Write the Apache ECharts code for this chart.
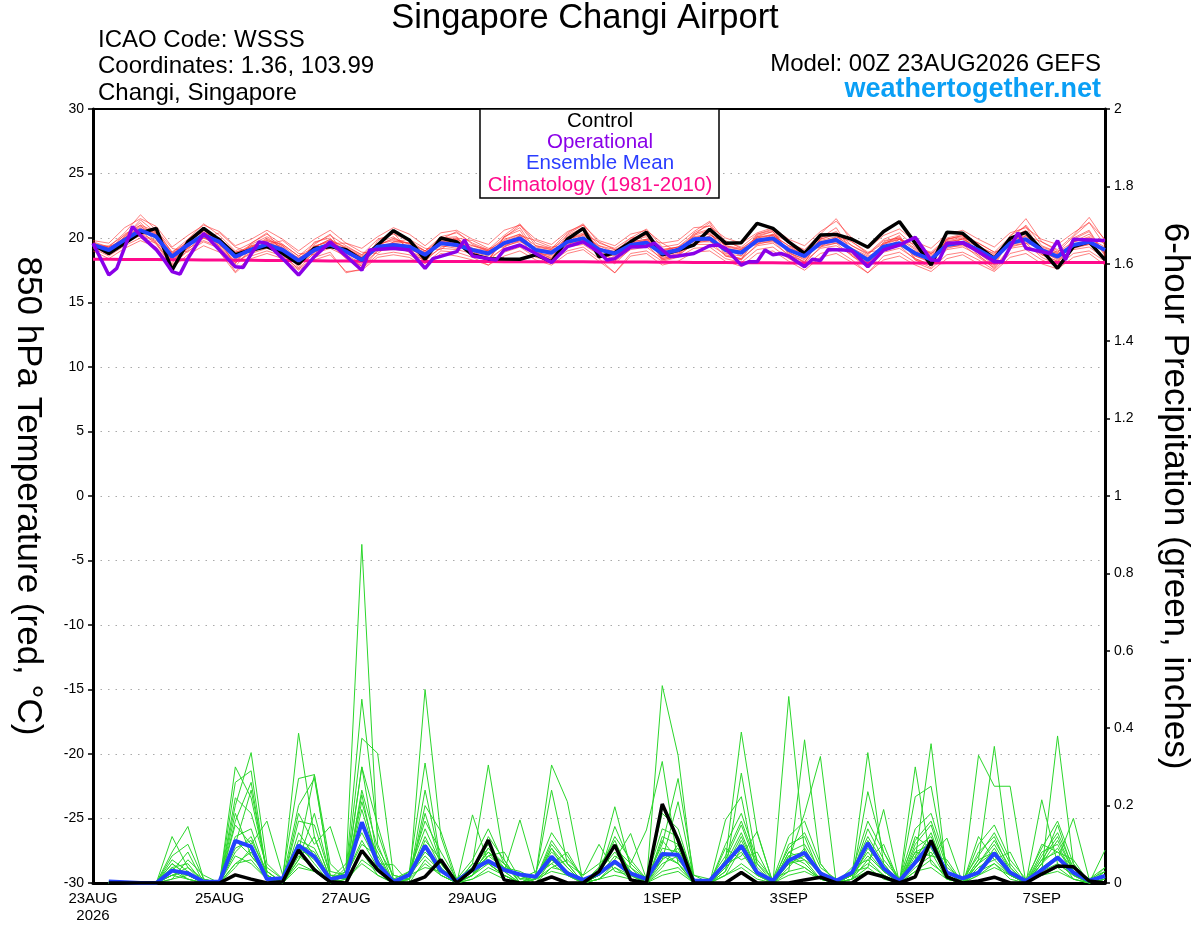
<!DOCTYPE html>
<html><head><meta charset="utf-8">
<script src="https://cdn.jsdelivr.net/npm/echarts@6/dist/echarts.min.js"></script>
<style>html,body{margin:0;padding:0;background:#fff}#c{width:1200px;height:927px}</style>
</head><body><div id="c"></div>
<script>
// ---- x axis (forecast hour from 00Z 23AUG2026) ----
const tickHours = [0, 48, 96, 144, 216, 264, 312, 360];
const tickLabels = ['23AUG\n2026', '25AUG', '27AUG', '29AUG', '1SEP', '3SEP', '5SEP', '7SEP'];
const hours6 = [];
for (let h = 0; h <= 384; h += 6) hours6.push(h);
const precipHours = hours6.slice(1);

// ---- 850 hPa temperature (C), 6-hourly ----
const controlTemp = [19.5,18.8,19.6,20.4,20.75,17.5,19.7,20.75,19.85,18.7,19.07,19.33,18.8,18.0,19.2,19.33,
  19.1,18.3,19.46,20.57,19.85,18.35,20.0,19.7,18.7,18.4,18.37,18.35,18.7,18.16,19.9,20.75,
  18.55,18.86,19.7,20.44,18.7,19.07,19.46,20.67,19.6,19.64,21.14,20.75,19.7,18.8,20.23,20.28,
  19.9,19.28,20.5,21.27,19.6,17.9,20.44,20.36,19.33,18.4,19.97,20.44,19.07,17.65,19.33,19.7,18.3];
const meanTemp = [19.46,19.07,19.85,20.6,20.1,18.55,19.46,20.23,19.7,18.55,19.1,19.5,19.07,18.24,19.07,19.5,
  18.95,18.3,19.33,19.46,19.33,18.7,19.6,19.46,19.07,18.8,19.6,19.97,19.07,18.86,19.7,19.97,
  19.1,18.8,19.46,19.64,18.8,19.07,19.9,19.97,19.07,18.86,19.8,19.97,19.07,18.6,19.6,19.85,
  19.05,18.3,19.33,19.6,18.8,18.35,19.46,19.64,19.07,18.4,19.6,19.9,19.07,18.55,19.46,19.7,19.07];
const climoTemp = [18.35,18.35,18.34,18.33,18.33,18.32,18.31,18.30,18.29,18.28,18.27,18.26,18.25,18.24,18.23,18.22,
  18.21,18.20,18.20,18.19,18.19,18.18,18.18,18.17,18.17,18.17,18.16,18.16,18.16,18.15,18.15,18.15,
  18.14,18.14,18.13,18.13,18.12,18.12,18.11,18.10,18.10,18.09,18.08,18.08,18.07,18.07,18.06,18.06,
  18.06,18.06,18.06,18.07,18.07,18.07,18.08,18.08,18.09,18.09,18.10,18.10,18.10,18.11,18.11,18.11,18.11];
// operational run (3-hourly output where visible)
const opHours = [0,6,9,15,18,24,27,30,33,36,42,48,54,57,60,63,66,72,78,84,90,96,102,105,114,120,126,129,138,141,144,153,156,162,168,174,180,186,
  192,195,198,204,210,213,219,222,228,234,237,240,246,249,252,255,258,261,264,270,273,276,279,285,288,294,300,306,312,318,321,324,330,336,342,345,351,354,360,363,366,369,372,378,384];
const opTemp = [19.6,17.13,17.65,20.88,20.2,19.1,18.3,17.4,17.2,18.4,20.36,19.07,17.77,17.72,18.75,19.7,19.6,18.4,17.13,18.55,19.7,18.6,17.5,19.07,19.2,19.07,17.65,18.4,18.94,19.85,18.6,18.3,19.07,19.46,18.8,18.1,19.33,19.7,
  18.9,18.3,18.4,19.3,19.35,19.6,18.55,18.6,18.8,19.4,19.46,19.2,17.9,18.16,18.16,19.07,18.7,18.8,18.6,17.77,18.35,18.25,19.1,19.07,19.0,17.77,19.07,19.46,20.05,18.3,18.25,19.6,19.64,18.94,18.16,18.16,20.4,19.2,18.94,18.8,19.8,18.3,19.9,19.85,19.8];

// ensemble members, temperature
const tempMemberA = [19.7,19.3,20.4,21.8,20.6,18.9,19.9,21.1,20.2,19.0,19.6,20.3,19.5,18.6,19.6,20.2,19.4,18.7,19.9,20.3,19.8,19.0,20.1,20.4,19.6,19.1,20.2,21.1,19.6,19.2,20.4,21.1,19.6,19.2,20.0,20.7,19.3,19.5,20.5,21.3,19.7,19.3,20.3,20.6,19.6,19.1,20.3,21.5,19.7,18.8,19.9,20.4,19.3,18.9,20.0,20.3,19.6,18.9,20.1,21.5,19.7,19.1,20.2,21.6,19.8];
const tempMemberB = [19.2,18.6,19.4,20.0,19.6,17.9,19.0,19.7,19.2,17.4,18.6,19.0,18.6,17.6,18.5,18.9,17.3,17.6,18.7,18.9,18.7,18.0,19.0,18.9,18.5,17.9,18.9,19.3,18.5,18.2,19.0,19.3,18.4,17.3,18.8,19.0,18.2,18.5,19.2,19.3,18.4,18.1,19.1,19.3,18.4,17.8,18.8,19.1,18.3,17.3,18.6,18.9,18.1,17.6,18.7,18.9,18.3,17.5,18.8,19.1,18.3,17.8,18.8,19.0,18.2];
const tempMemberC = [19.4,19.0,20.0,20.9,20.3,18.4,19.3,20.4,20.0,18.3,19.4,19.8,19.3,17.9,19.3,19.9,18.8,18.2,19.1,19.7,19.6,18.4,19.8,19.9,18.9,18.6,19.9,20.3,18.9,18.6,19.9,20.4,19.2,18.5,19.7,19.9,18.6,18.9,20.2,21.2,19.2,18.6,20.0,20.3,18.9,18.3,19.9,20.3,19.0,18.0,19.5,19.9,18.6,18.1,19.7,19.9,18.8,18.1,19.9,20.4,19.0,18.3,19.7,20.1,18.9];
const tempMemberD = [19.6,19.2,19.6,20.3,19.8,18.8,19.7,20.0,19.4,18.8,19.0,19.3,18.9,18.5,18.9,19.3,19.2,18.5,19.5,19.2,19.0,18.9,19.4,19.2,19.4,19.0,19.4,19.7,19.3,19.1,19.5,19.8,19.0,19.0,19.3,19.4,19.1,19.3,19.7,19.7,19.3,19.1,19.6,19.7,19.3,18.8,19.4,19.6,19.2,18.6,19.1,19.4,19.0,18.7,19.3,19.4,19.2,18.6,19.4,19.6,19.2,18.8,19.3,19.5,19.2];
const tempMemberE = [19.3,19.4,20.2,21.2,19.9,18.3,19.8,20.5,19.5,18.2,19.3,19.9,19.4,18.0,19.4,19.7,18.7,18.0,19.6,20.1,19.2,18.5,19.7,19.8,18.8,18.4,19.7,20.2,18.8,18.7,19.9,20.3,19.3,18.6,19.6,19.8,18.5,18.8,20.0,20.4,18.8,18.6,20.3,20.7,18.8,18.4,19.7,20.0,18.8,18.1,19.6,20.0,18.6,18.2,19.8,20.0,18.9,18.2,19.8,20.2,18.9,18.4,19.7,20.3,18.8];
const tempMemberF = [19.5,18.9,20.1,21.4,20.4,18.2,19.2,20.6,19.9,17.8,19.2,20.0,19.2,17.7,19.5,20.3,18.5,17.8,19.4,20.0,19.5,18.1,19.9,20.0,19.0,18.2,20.1,20.8,19.0,18.4,20.3,21.0,19.0,18.2,19.9,20.3,18.4,18.7,20.4,21.0,18.9,18.3,20.1,20.5,18.9,18.1,20.0,20.8,18.9,17.8,19.5,20.2,18.4,17.9,19.9,20.2,18.8,17.9,20.2,20.9,18.8,18.0,20.0,20.6,18.7];
const tempMemberG = [19.5,19.2,19.7,20.4,20.2,18.7,19.6,20.0,19.6,18.9,19.2,19.4,18.9,18.4,19.0,19.6,19.2,18.5,19.2,19.6,19.4,18.9,19.6,19.3,19.2,19.0,19.5,19.9,19.2,19.0,19.6,19.8,19.2,18.9,19.5,19.6,19.0,19.2,19.8,19.8,19.2,19.0,19.7,19.8,19.2,18.8,19.5,19.7,19.1,18.5,19.2,19.5,18.9,18.6,19.4,19.5,19.1,18.6,19.5,19.7,19.1,18.8,19.4,19.6,19.0];
const tempMemberH = [19.4,18.8,20.0,20.8,20.0,18.5,19.3,20.3,19.8,18.4,19.0,19.6,19.2,18.0,19.1,19.4,18.9,18.3,19.3,19.4,19.2,18.6,19.5,19.7,19.2,18.7,19.5,19.8,19.0,18.8,19.7,20.1,19.1,18.7,19.6,19.8,18.9,18.9,19.9,20.1,19.0,18.8,19.9,20.1,19.0,18.5,19.6,19.9,19.1,18.2,19.3,19.6,18.7,18.3,19.5,19.6,19.1,18.4,19.6,19.9,19.0,18.5,19.5,19.8,19.0];
const tempMemberI = [19.6,19.0,19.8,20.5,20.3,18.6,19.6,20.1,19.6,18.6,19.4,19.3,18.8,18.3,19.2,19.4,19.0,18.4,19.2,19.3,19.2,18.8,19.5,19.4,19.1,18.9,19.6,19.9,19.1,18.9,19.6,19.9,19.1,18.9,19.4,19.5,18.8,19.0,19.9,19.8,19.1,18.9,19.7,19.9,19.0,18.6,19.5,19.8,19.0,18.4,19.3,19.5,18.8,18.4,19.4,19.6,19.0,18.4,19.6,19.8,19.1,18.6,19.4,19.6,19.1];
const tempMemberJ = [19.5,19.1,20.1,21.0,20.5,18.9,19.7,20.6,19.7,18.7,19.5,20.1,19.4,18.4,19.3,19.9,19.2,18.6,19.5,19.9,19.6,19.0,19.9,20.5,19.5,19.0,20.0,21.0,19.4,19.1,20.2,20.8,19.4,18.9,20.0,20.2,19.0,19.3,20.3,20.7,19.4,19.1,20.1,20.2,19.4,18.9,20.0,20.5,19.4,18.7,19.8,20.0,19.2,18.8,19.9,20.1,19.4,18.7,19.9,21.0,19.4,18.9,20.1,21.2,19.4];
const tempMemberK = [19.3,18.9,19.6,20.2,19.7,18.3,19.2,19.8,19.3,18.1,18.8,19.2,18.8,17.9,18.8,19.2,18.6,17.9,19.0,19.1,19.0,18.4,19.2,19.1,18.8,18.4,19.2,19.5,18.8,18.5,19.3,19.5,18.7,18.2,19.1,19.3,18.4,18.7,19.5,19.5,18.7,18.4,19.4,19.6,18.7,18.2,19.2,19.4,18.7,17.9,18.9,19.2,18.4,17.9,19.1,19.3,18.7,17.6,19.2,19.4,18.7,18.2,19.1,19.3,18.4];
const tempMemberL = [19.5,19.1,20.0,20.7,20.0,18.6,19.5,20.2,19.7,18.6,19.1,19.7,19.2,18.2,19.2,19.6,19.0,18.3,19.4,19.6,19.3,18.7,19.6,19.6,19.1,18.8,19.6,20.1,19.1,18.9,19.8,20.0,19.1,18.8,19.5,19.7,18.8,19.1,19.9,20.1,19.1,18.9,19.8,20.0,19.1,18.6,19.6,19.9,19.1,18.3,19.3,19.6,18.8,18.4,19.5,19.7,19.1,18.4,19.6,19.9,19.1,18.6,19.5,19.7,19.1];
const tempMemberM = [19.8,19.6,20.8,21.5,20.9,19.3,20.2,21.0,20.5,19.4,19.9,20.6,19.9,19.0,19.9,20.6,19.6,19.2,20.1,20.8,20.3,19.4,20.4,20.6,19.9,19.5,20.6,21.0,19.9,19.5,20.5,21.0,19.8,19.4,20.3,20.6,19.6,19.8,20.8,20.9,20.0,19.6,20.4,20.8,19.9,19.4,20.5,21.3,20.0,19.2,20.2,20.7,19.7,19.2,20.3,20.6,19.9,19.3,20.4,20.8,19.9,19.5,20.4,21.2,19.9];
const tempMemberN = [19.0,18.4,19.2,19.8,19.3,17.7,18.7,19.4,18.9,17.3,18.4,18.8,18.4,17.5,18.3,18.7,17.4,17.5,18.5,18.7,18.5,17.8,18.8,18.6,18.3,17.9,18.6,19.0,18.3,17.9,18.8,19.1,18.2,17.3,18.6,18.8,17.9,18.2,18.9,19.0,18.2,17.8,18.8,19.0,18.2,17.5,18.5,18.8,18.1,17.3,18.3,18.6,17.9,17.4,18.4,18.7,18.0,17.4,18.5,18.8,18.0,17.6,18.5,18.8,17.9];
const tempMemberO = [19.4,19.3,19.9,20.2,20.6,19.2,18.9,20.0,20.4,19.3,18.8,19.5,19.8,18.8,18.7,19.6,19.6,18.9,18.8,19.7,19.9,19.2,19.1,20.0,19.8,19.2,19.3,20.2,19.8,19.3,19.4,20.3,19.7,19.1,19.2,19.9,19.6,18.9,19.4,20.2,19.8,19.2,19.5,20.3,19.7,19.0,19.3,20.1,19.7,18.9,19.1,19.9,19.5,18.8,19.3,20.0,19.6,18.9,19.3,20.2,19.7,19.0,19.3,20.0,19.6];
const tempMemberP = [19.5,19.0,20.3,21.0,19.6,18.0,19.9,20.8,19.3,18.0,19.6,20.4,18.9,17.9,19.7,20.0,18.6,17.8,19.8,20.4,19.0,18.2,20.0,20.1,18.7,18.3,20.1,20.6,18.7,18.4,20.1,20.6,18.8,18.4,19.8,20.1,18.3,18.6,20.2,20.6,18.6,18.4,20.2,20.5,18.7,18.1,19.9,20.3,18.6,17.9,19.7,20.1,18.3,17.9,19.9,20.2,18.6,17.8,20.0,20.6,18.7,18.2,19.9,20.5,18.6];
const tempMemberQ = [19.6,19.3,19.9,20.7,20.4,18.8,19.5,20.4,20.0,18.9,19.3,19.8,19.5,18.6,19.3,19.8,19.3,18.7,19.5,19.8,19.6,19.0,19.7,19.9,19.4,19.1,19.8,20.3,19.4,19.2,19.9,20.2,19.4,19.1,19.7,19.9,19.1,19.3,20.1,20.3,19.4,19.2,20.0,20.2,19.4,18.9,19.8,20.1,19.4,18.8,19.6,19.9,19.1,18.8,19.7,19.9,19.3,18.8,19.8,20.1,19.3,18.9,19.7,20.0,19.3];
const tempMemberR = [19.3,18.7,19.5,20.6,19.5,17.8,19.1,20.2,19.5,18.1,18.9,19.6,18.7,17.6,18.9,19.5,18.4,17.6,19.0,19.4,18.9,18.2,19.3,19.5,18.7,18.2,19.3,19.8,18.7,18.3,19.4,19.8,18.7,18.0,19.2,19.5,18.3,18.6,19.6,19.8,18.6,18.3,19.5,19.8,18.6,18.0,19.3,19.6,18.6,17.7,19.0,19.4,18.3,17.7,19.2,19.5,18.5,17.7,19.3,19.6,18.5,17.9,19.2,19.5,18.5];
const tempMembers = [tempMemberA,tempMemberB,tempMemberC,tempMemberD,tempMemberE,tempMemberF,tempMemberG,tempMemberH,tempMemberI,
  tempMemberJ,tempMemberK,tempMemberL,tempMemberM,tempMemberN,tempMemberO,tempMemberP,tempMemberQ,tempMemberR];

// ---- 6-hour precipitation (inches), from hour 6 ----
const controlPrecip = [0,0,0,0,0,0,0,0,0.021,0.01,0,0.003,0.085,0.034,0.003,0,
  0.084,0.034,0,0,0.016,0.06,0,0.034,0.111,0.008,0,0,0.016,0,0,0.03,
  0.098,0.008,0,0.204,0.111,0,0,0,0.027,0,0,0,0.008,0.015,0,0,
  0.027,0.016,0,0.016,0.11,0.016,0,0.005,0.015,0,0,0.023,0.044,0.042,0.005,0];
const meanPrecip = [0.004,0.002,0,0,0.032,0.025,0.003,0.003,0.109,0.094,0.01,0.012,0.097,0.068,0.01,0.018,
  0.157,0.051,0.003,0.021,0.096,0.032,0.005,0.034,0.057,0.034,0.022,0.016,0.068,0.025,0.008,0.025,
  0.055,0.025,0.01,0.075,0.073,0.006,0.006,0.051,0.096,0.027,0.006,0.058,0.078,0.025,0.006,0.027,
  0.103,0.038,0.005,0.053,0.103,0.027,0.012,0.027,0.077,0.027,0.005,0.034,0.066,0.027,0.006,0.018];
const precipMember1 = [0,0,0,0,0.02,0.03,0,0,0.08,0.12,0.02,0,0.05,0.03,0,0.04,0.875,0.10,0,0.02,0.10,0.03,0,0.02,0.05,0.02,0,0,0.06,0.03,0,0.01,0.04,0.02,0,0.08,0.05,0,0,0.02,0.09,0.02,0,0.05,0.06,0.01,0,0.01,0.06,0.02,0,0.05,0.08,0.01,0,0.03,0.05,0.02,0,0.02,0.04,0.01,0,0.02];
const precipMember2 = [0.005,0,0,0,0.12,0.04,0,0,0.30,0.22,0.03,0,0.10,0.08,0.01,0.03,0.475,0.13,0.01,0,0.50,0.12,0,0.03,0.08,0.03,0,0.02,0.05,0.02,0,0.03,0.08,0.03,0,0.51,0.33,0,0,0.04,0.12,0.03,0,0.06,0.04,0.01,0,0.02,0.10,0.03,0,0.06,0.36,0.02,0,0.05,0.08,0.03,0,0.03,0.38,0.05,0,0.03];
const precipMember3 = [0,0,0,0,0.08,0.146,0.01,0,0.20,0.337,0.05,0.01,0.387,0.12,0.01,0.02,0.374,0.335,0.02,0.01,0.24,0.05,0,0.05,0.305,0.06,0,0.01,0.10,0.05,0,0.04,0.197,0.04,0.01,0.10,0.27,0.02,0,0.06,0.39,0.13,0,0.08,0.06,0.03,0,0.03,0.04,0.19,0,0.08,0.10,0.03,0,0.04,0.06,0.02,0,0.06,0.08,0.04,0,0.085];
const precipMember4 = [0,0,0,0,0.05,0.02,0,0,0.26,0.29,0.02,0,0.08,0.28,0.02,0.01,0.30,0.06,0,0.03,0.31,0.05,0,0.176,0.05,0.02,0,0.02,0.305,0.21,0,0.02,0.06,0.128,0.01,0.06,0.21,0.01,0,0.03,0.284,0.05,0,0.482,0.08,0.02,0,0.02,0.337,0.05,0,0.30,0.05,0.02,0,0.06,0.353,0.04,0,0.215,0.05,0.02,0,0.03];
const precipMember5 = [0,0,0,0,0.03,0.08,0,0,0.15,0.10,0.16,0.02,0.27,0.28,0.05,0.01,0.228,0.04,0.01,0.01,0.20,0.133,0.01,0.04,0.10,0.03,0.163,0.02,0.24,0.05,0,0.02,0.146,0.05,0.137,0.314,0.05,0.01,0,0.163,0.223,0.02,0.01,0.03,0.37,0.05,0,0.01,0.236,0.08,0,0.223,0.25,0.03,0,0.33,0.25,0.25,0,0.04,0.06,0.167,0.01,0.04];
const precipMember6 = [0,0,0,0,0.02,0.01,0,0,0.10,0.24,0.03,0,0.18,0.10,0.146,0.02,0.19,0.05,0.047,0,0.06,0.02,0,0.02,0.07,0.04,0.02,0,0.04,0.06,0.02,0.10,0.03,0.02,0,0.04,0.10,0,0,0.05,0.07,0.133,0,0.06,0.18,0.327,0,0.02,0.05,0.02,0,0.04,0.07,0.116,0,0.05,0.10,0.03,0,0.05,0.15,0.03,0,0.02];
const precipMember7 = [0,0,0,0,0.01,0.02,0,0,0.05,0.06,0.01,0,0.04,0.03,0,0.01,0.08,0.02,0,0.01,0.05,0.02,0,0.01,0.04,0.02,0,0.01,0.06,0.02,0,0.01,0.02,0.01,0,0.03,0.04,0,0,0.02,0.05,0.02,0,0.03,0.04,0.01,0,0.01,0.03,0.02,0,0.03,0.04,0.01,0,0.02,0.04,0.02,0,0.03,0.05,0.02,0,0.01];
const precipMember8 = [0,0,0,0,0.04,0.05,0,0,0.12,0.14,0.02,0,0.10,0.05,0,0.03,0.15,0.08,0,0.02,0.12,0.04,0,0.03,0.08,0.05,0,0.02,0.08,0.04,0,0.02,0.10,0.03,0,0.12,0.10,0,0,0.06,0.15,0.04,0,0.10,0.12,0.02,0,0.03,0.12,0.05,0,0.10,0.15,0.02,0,0.08,0.12,0.03,0,0.06,0.12,0.03,0,0.02];
const precipMember9 = [0,0,0,0,0.06,0.03,0,0,0.07,0.05,0.01,0,0.13,0.07,0,0.02,0.11,0.04,0,0.01,0.09,0.02,0,0.02,0.12,0.06,0,0.01,0.04,0.03,0,0.01,0.05,0.02,0,0.07,0.05,0,0,0.03,0.11,0.03,0,0.07,0.05,0.01,0,0.02,0.07,0.03,0,0.12,0.09,0.02,0,0.04,0.07,0.02,0,0.08,0.10,0.02,0,0.01];
const precipMember10 = [0,0,0,0,0.02,0.04,0.01,0,0.18,0.07,0.02,0,0.06,0.12,0.01,0,0.06,0.03,0,0.03,0.14,0.05,0,0.05,0.05,0.02,0,0.01,0.09,0.02,0,0.02,0.07,0.04,0,0.05,0.07,0,0,0.04,0.08,0.02,0,0.04,0.09,0.02,0,0.01,0.09,0.04,0,0.07,0.11,0.01,0,0.03,0.09,0.02,0,0.04,0.07,0.01,0,0.02];
const precipMember11 = [0,0,0,0,0.03,0.01,0,0,0.04,0.09,0.01,0,0.07,0.04,0,0.01,0.05,0.02,0,0.02,0.04,0.03,0,0.01,0.03,0.01,0,0.01,0.03,0.02,0,0.01,0.04,0.01,0,0.02,0.03,0,0,0.02,0.04,0.01,0,0.02,0.03,0.01,0,0.01,0.04,0.01,0,0.03,0.06,0.01,0,0.02,0.05,0.01,0,0.02,0.03,0.01,0,0.01];
const precipMember12 = [0,0,0,0,0.05,0.02,0,0,0.09,0.11,0.03,0,0.09,0.06,0.01,0.02,0.21,0.06,0,0.02,0.07,0.03,0,0.02,0.06,0.03,0,0.02,0.07,0.03,0,0.02,0.06,0.02,0,0.09,0.08,0,0,0.05,0.10,0.03,0,0.07,0.08,0.02,0,0.02,0.08,0.03,0,0.06,0.13,0.02,0,0.06,0.08,0.03,0,0.05,0.09,0.02,0,0.02];
const precipMember13 = [0,0,0,0,0.07,0.10,0.01,0,0.22,0.18,0.04,0.01,0.20,0.27,0.03,0.02,0.30,0.15,0.01,0.03,0.16,0.08,0.01,0.06,0.14,0.05,0.01,0.03,0.13,0.07,0.01,0.03,0.12,0.06,0.01,0.18,0.14,0.01,0,0.10,0.18,0.06,0.01,0.12,0.16,0.05,0,0.03,0.16,0.08,0.01,0.14,0.18,0.05,0,0.10,0.15,0.06,0.01,0.09,0.16,0.05,0,0.04];
const precipMember14 = [0,0,0,0,0.01,0.06,0.02,0,0.16,0.26,0.02,0,0.16,0.15,0.02,0.01,0.24,0.09,0.02,0.01,0.18,0.05,0.01,0.04,0.09,0.04,0.03,0.01,0.11,0.05,0.02,0.05,0.09,0.05,0.01,0.14,0.12,0.02,0.01,0.07,0.16,0.05,0.01,0.09,0.13,0.04,0.01,0.02,0.14,0.06,0.01,0.11,0.16,0.04,0.01,0.07,0.13,0.05,0,0.07,0.13,0.04,0.01,0.03];
const precipMember15 = [0,0,0,0,0.04,0.01,0,0,0.05,0.08,0.01,0,0.11,0.09,0.01,0.05,0.13,0.05,0,0.02,0.08,0.04,0,0.02,0.09,0.05,0.01,0.01,0.09,0.04,0,0.04,0.11,0.02,0,0.06,0.09,0,0,0.05,0.13,0.03,0,0.08,0.10,0.03,0,0.02,0.11,0.04,0,0.09,0.12,0.03,0,0.05,0.11,0.04,0,0.05,0.11,0.03,0,0.02];
const precipMember16 = [0,0,0,0,0.03,0.02,0,0,0.11,0.07,0.02,0,0.06,0.18,0.02,0.02,0.10,0.07,0,0.01,0.11,0.06,0,0.03,0.07,0.08,0.01,0.02,0.05,0.08,0.01,0.02,0.05,0.03,0,0.11,0.06,0.01,0,0.09,0.06,0.08,0,0.05,0.07,0.02,0,0.04,0.06,0.10,0,0.08,0.07,0.06,0,0.12,0.06,0.08,0,0.10,0.08,0.06,0,0.01];
const precipMembers = [precipMember1,precipMember2,precipMember3,precipMember4,precipMember5,precipMember6,precipMember7,precipMember8,
  precipMember9,precipMember10,precipMember11,precipMember12,precipMember13,precipMember14,precipMember15,precipMember16];

// ---- build ----
const FONT = '"Liberation Sans", Arial, Helvetica, sans-serif';
const pairs = (xs, ys) => xs.map((x, k) => [x, ys[k]]);
const series = [];
precipMembers.forEach(m => series.push({
  type: 'line', yAxisIndex: 1, data: pairs(precipHours, m), symbol: 'none', silent: true, z: 2,
  lineStyle: { color: '#2bd62b', width: 1 }
}));
tempMembers.forEach(m => series.push({
  type: 'line', yAxisIndex: 0, data: pairs(hours6, m), symbol: 'none', silent: true, z: 2,
  lineStyle: { color: 'rgba(255,45,45,0.6)', width: 1 }
}));
series.push({ name: 'Climatology', type: 'line', yAxisIndex: 0, data: pairs(hours6, climoTemp), symbol: 'none', z: 3, lineStyle: { color: '#ff0a8c', width: 3 } });
series.push({ name: 'Mean P', type: 'line', yAxisIndex: 1, data: pairs(precipHours, meanPrecip), symbol: 'none', z: 4, lineStyle: { color: '#2342ff', width: 4 } });
series.push({ name: 'Control P', type: 'line', yAxisIndex: 1, data: pairs(precipHours, controlPrecip), symbol: 'none', z: 5, lineStyle: { color: '#000', width: 3.5 } });
series.push({ name: 'Control', type: 'line', yAxisIndex: 0, data: pairs(hours6, controlTemp), symbol: 'none', z: 5, lineStyle: { color: '#000', width: 3.5 } });
series.push({ name: 'Ensemble Mean', type: 'line', yAxisIndex: 0, data: pairs(hours6, meanTemp), symbol: 'none', z: 6, lineStyle: { color: '#2342ff', width: 4 } });
series.push({ name: 'Operational', type: 'line', yAxisIndex: 0, data: pairs(opHours, opTemp), symbol: 'none', z: 7, lineStyle: { color: '#8a00e8', width: 3.5 } });

const legendLines = [
  { text: 'Control', color: '#000000' },
  { text: 'Operational', color: '#8a00e8' },
  { text: 'Ensemble Mean', color: '#2a3dff' },
  { text: 'Climatology (1981-2010)', color: '#ff0a8c' }
];

const graphic = [
  { type: 'text', x: 585, y: 18, z: 100, style: { text: 'Singapore Changi Airport', font: '34.5px ' + FONT, fill: '#000', align: 'center', verticalAlign: 'middle' } },
  { type: 'text', x: 98, y: 40, z: 100, style: { text: 'ICAO Code: WSSS', font: '24px ' + FONT, fill: '#000', align: 'left', verticalAlign: 'middle' } },
  { type: 'text', x: 98, y: 66, z: 100, style: { text: 'Coordinates: 1.36, 103.99', font: '24px ' + FONT, fill: '#000', align: 'left', verticalAlign: 'middle' } },
  { type: 'text', x: 98, y: 93, z: 100, style: { text: 'Changi, Singapore', font: '24px ' + FONT, fill: '#000', align: 'left', verticalAlign: 'middle' } },
  { type: 'text', x: 1101, y: 64, z: 100, style: { text: 'Model: 00Z 23AUG2026 GEFS', font: '24px ' + FONT, fill: '#000', align: 'right', verticalAlign: 'middle' } },
  { type: 'text', x: 1101, y: 90, z: 100, style: { text: 'weathertogether.net', font: 'bold 27px ' + FONT, fill: '#0a9ff5', align: 'right', verticalAlign: 'middle' } },
  { type: 'rect', z: 100, shape: { x: 480, y: 109, width: 239, height: 89 }, style: { fill: '#fff', stroke: '#000', lineWidth: 1.5 } }
];
legendLines.forEach((l, k) => graphic.push({ type: 'text', x: 600, y: 121 + k * 21.3, z: 101, style: { text: l.text, font: '20.5px ' + FONT, fill: l.color, align: 'center', verticalAlign: 'middle' } }));

const chart = echarts.init(document.getElementById('c'), null, { renderer: 'canvas' });
chart.setOption({
  animation: false,
  backgroundColor: '#fff',
  grid: { left: 93, right: 95, top: 109, bottom: 44, show: true, borderColor: '#000', borderWidth: 2, backgroundColor: 'transparent' },
  xAxis: [
    {
      type: 'value', min: 0, max: 384, interval: 24, position: 'bottom',
      axisLine: { show: true, onZero: false, lineStyle: { color: '#000', width: 3 } },
      axisTick: { show: false },
      splitLine: { show: false },
      axisLabel: {
        color: '#000', fontFamily: FONT, fontSize: 15, lineHeight: 17, margin: 7,
        formatter: v => { const k = tickHours.indexOf(v); return k >= 0 ? tickLabels[k] : ''; }
      }
    },
    {
      type: 'value', min: 0, max: 384, position: 'top',
      axisLine: { show: true, onZero: false, lineStyle: { color: '#000', width: 2 } },
      axisTick: { show: false }, axisLabel: { show: false }, splitLine: { show: false }
    }
  ],
  yAxis: [
    {
      type: 'value', min: -30, max: 30, interval: 5, position: 'left',
      name: '850 hPa Temperature (red, \u00B0C)', nameLocation: 'middle', nameRotate: -90, nameGap: 48,
      nameTextStyle: { fontFamily: FONT, fontSize: 35, color: '#000' },
      axisLine: { show: true, onZero: false, lineStyle: { color: '#000', width: 3 } },
      axisTick: { show: true, length: 5, lineStyle: { color: '#000', width: 1.5 } },
      axisLabel: { color: '#000', fontFamily: FONT, fontSize: 14, margin: 9 },
      splitLine: { show: true, lineStyle: { color: '#aaaaaa', width: 1.2, type: [1.5, 6] } }
    },
    {
      type: 'value', min: 0, max: 2, interval: 0.2, position: 'right',
      name: '6-hour Precipitation (green, inches)', nameLocation: 'middle', nameRotate: -90, nameGap: 52,
      nameTextStyle: { fontFamily: FONT, fontSize: 35, color: '#000' },
      axisLine: { show: true, onZero: false, lineStyle: { color: '#000', width: 3 } },
      axisTick: { show: true, length: 5, lineStyle: { color: '#000', width: 1.5 } },
      axisLabel: { color: '#000', fontFamily: FONT, fontSize: 14, margin: 9 },
      splitLine: { show: false }
    }
  ],
  graphic: graphic,
  series: series
});
</script></body></html>
